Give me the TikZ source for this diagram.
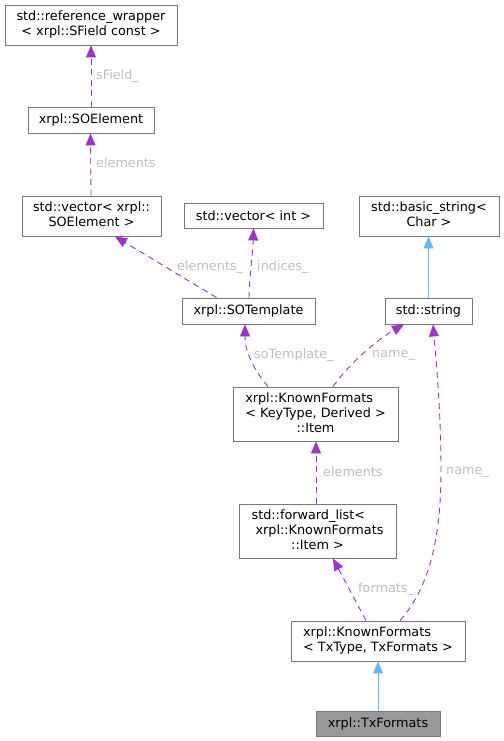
\documentclass[tikz,border=0pt]{standalone}
\usepackage{fontspec}
\setmainfont{DejaVu Sans}
\usetikzlibrary{arrows.meta}
\definecolor{edgepurple}{HTML}{9A32CD}
\definecolor{edgeblue}{HTML}{63B8FF}
\definecolor{boxgray}{HTML}{777777}
\definecolor{labgray}{HTML}{BEBEBE}
\definecolor{curfill}{HTML}{999999}
\newcommand{\ctrline}[1]{\multicolumn{1}{@{}c@{}}{#1}}
\renewcommand{\arraystretch}{1}
\tikzset{
  cls/.style={draw=boxgray, line width=0.9pt, rectangle, inner sep=0pt, fill=white, font=\fontsize{12.8}{15}\selectfont},
  member/.style={draw=edgepurple, line width=0.9pt, dash pattern=on 6pt off 4.5pt, -{Triangle[length=12pt,width=10pt]}},
  inherit/.style={draw=edgeblue, line width=0.9pt, -{Triangle[length=12pt,width=10pt]}},
  elabel/.style={text=labgray, anchor=west, inner sep=0pt, font=\fontsize{12.8}{15}\selectfont}
}
\begin{document}
\begin{tikzpicture}[x=1pt,y=-1pt]
\useasboundingbox (0,0) rectangle (503,741);
% nodes
\node[cls, minimum width=172pt, minimum height=40pt] (ref) at (91,25)
  {\begin{tabular}{@{}l@{}}std::reference\_wrapper\\\ctrline{< xrpl::SField const >}\end{tabular}};
\node[cls, minimum width=126pt, minimum height=26pt] (soel) at (91,120) {xrpl::SOElement};
\node[cls, minimum width=139pt, minimum height=40pt] (vecel) at (91.5,216)
  {\begin{tabular}{@{}l@{}}std::vector< xrpl::\\\ctrline{SOElement >}\end{tabular}};
\node[cls, minimum width=139pt, minimum height=25pt] (vecint) at (253.5,215.5) {std::vector< int >};
\node[cls, minimum width=140pt, minimum height=40pt] (bstr) at (429,216)
  {\begin{tabular}{@{}l@{}}std::basic\_string<\\\ctrline{Char >}\end{tabular}};
\node[cls, minimum width=133pt, minimum height=26pt] (sotpl) at (248.5,311) {xrpl::SOTemplate};
\node[cls, minimum width=87pt, minimum height=26pt] (str) at (428.5,311) {std::string};
\node[cls, minimum width=165pt, minimum height=54pt] (item) at (315.5,414)
  {\begin{tabular}{@{}l@{}}xrpl::KnownFormats\\< KeyType, Derived >\\\ctrline{::Item}\end{tabular}};
\node[cls, minimum width=157pt, minimum height=54pt] (flist) at (317.5,531)
  {\begin{tabular}{@{}l@{}}std::forward\_list<\\\hspace{4pt}xrpl::KnownFormats\\\ctrline{::Item >}\end{tabular}};
\node[cls, minimum width=174pt, minimum height=40pt] (kf) at (378,641)
  {\begin{tabular}{@{}l@{}}xrpl::KnownFormats\\\ctrline{< TxType, TxFormats >}\end{tabular}};
\node[cls, fill=curfill, minimum width=124pt, minimum height=25pt] (tx) at (378,723.5) {xrpl::TxFormats};
% edges
\draw[member] (soel.north) -- (ref.south);
\draw[member] ([xshift=-0.5pt]vecel.north) -- ([xshift=-0.5pt]soel.south);
\draw[member] ([xshift=-32pt]sotpl.north) -- ([xshift=23.5pt]vecel.south);
\draw[member] ([xshift=0.5pt]sotpl.north) .. controls (250,270) and (253,250) .. (vecint.south);
\draw[inherit] (str.north) -- (str.north |- bstr.south);
\draw[member] ([xshift=-47.5pt]item.north) .. controls (250,365) and (245,348) .. ([xshift=-3.5pt]sotpl.south);
\draw[member] ([xshift=17.5pt]item.north) .. controls (352,360) and (380,338) .. ([xshift=-24.5pt]str.south);
\draw[member] ([xshift=-1.5pt]flist.north) -- ([xshift=0.5pt]item.south);
\draw[member] ([xshift=-12pt]kf.north) -- ([xshift=15.5pt]flist.south);
\draw[member] ([xshift=22pt]kf.north) .. controls (432,585) and (441,530) .. (441,470)
   .. controls (441,410) and (436,360) .. ([xshift=4.5pt]str.south);
\draw[inherit] (tx.north) -- (kf.south);
% edge labels
\node[elabel] (l1) at (96,76) {sField\_};
\node[elabel] (l2) at (96,163) {elements};
\node[elabel] (l3) at (177,267) {elements\_};
\node[elabel] (l4) at (257,267) {indices\_};
\node[elabel] (l5) at (254,355) {soTemplate\_};
\node[elabel] (l6) at (372,355) {name\_};
\node[elabel] (l7) at (323,472) {elements};
\node[elabel] (l8) at (446,472) {name\_};
\node[elabel] (l9) at (358,589) {formats\_};
\end{tikzpicture}
\end{document}
